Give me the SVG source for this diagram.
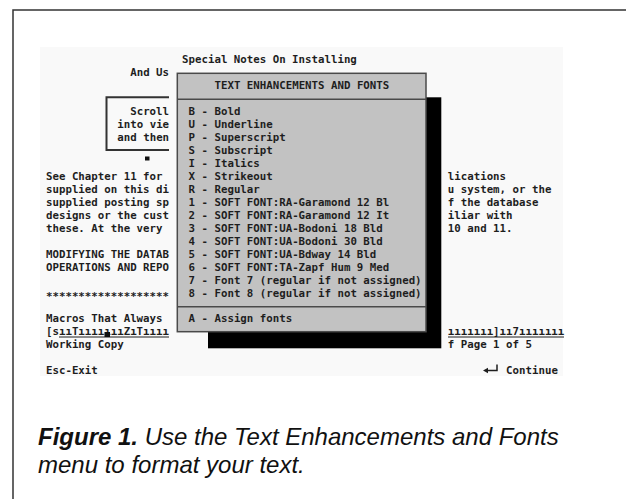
<svg xmlns="http://www.w3.org/2000/svg" width="626" height="499" viewBox="0 0 626 499">
  <style>
    .scr { font-family: "DejaVu Sans Mono", "Liberation Mono", monospace; font-size: 10.76px; font-weight: bold; fill: #1e1e1e; }
    .cap { font-family: "Liberation Sans", Arial, sans-serif; font-size: 24px; font-style: italic; fill: #111; }
    .ul { stroke: #1e1e1e; stroke-width: 1; }
  </style>

  <!-- frame around the figure -->
  <rect x="13" y="10" width="640" height="520" fill="none" stroke="#333" stroke-width="1.5"/>

  <!-- screen background -->
  <rect x="40" y="47" width="523" height="329" fill="#f9f9f9"/>

  <!-- underlying document text -->
  <g id="document">
    <text class="scr" x="182.1" y="63.4">Special Notes On Installing</text>
    <text class="scr" x="130.2" y="76.35">And Us</text>

    <!-- partially hidden scroll box -->
    <path d="M169,97.3 H106.5 V150 H169" fill="none" stroke="#333" stroke-width="2"/>
    <text class="scr" x="130.2" y="115.2">Scroll</text>
    <text class="scr" x="117.3" y="128.15">into vie</text>
    <text class="scr" x="117.3" y="141.1">and then</text>
    <rect x="145" y="156.5" width="4.5" height="4" fill="#111"/>

    <text class="scr" x="46" y="179.95">See Chapter 11 for</text>
    <text class="scr" x="46" y="192.9">supplied on this di</text>
    <text class="scr" x="46" y="205.85">supplied posting sp</text>
    <text class="scr" x="46" y="218.8">designs or the cust</text>
    <text class="scr" x="46" y="231.75">these. At the very</text>
    <text class="scr" x="46" y="257.65">MODIFYING THE DATAB</text>
    <text class="scr" x="46" y="270.6">OPERATIONS AND REPO</text>
    <text class="scr" x="46" y="299.5">*******************</text>
    <text class="scr" x="46" y="322.4">Macros That Always</text>
    <text class="scr" x="46" y="335.35">[sııTıııııııZıTıııı</text>
    <line class="ul" x1="59" y1="337" x2="169" y2="337"/>
    <rect x="104.5" y="332" width="5.5" height="5" fill="#111"/>
    <text class="scr" x="46" y="348.3">Working Copy</text>
    <text class="scr" x="46" y="374.2">Esc-Exit</text>

    <text class="scr" x="447.8" y="179.95">lications</text>
    <text class="scr" x="447.8" y="192.9">u system, or the</text>
    <text class="scr" x="447.8" y="205.85">f the database</text>
    <text class="scr" x="447.8" y="218.8">iliar with</text>
    <text class="scr" x="447.8" y="231.75">10 and 11.</text>
    <text class="scr" x="447.8" y="335.35">ııııııı]ıı7ııııııı</text>
    <line class="ul" x1="448" y1="337" x2="564" y2="337"/>
    <text class="scr" x="447.8" y="348.3">f Page 1 of 5</text>

    <!-- enter key symbol -->
    <path d="M483,370.5 L488,367.8 L488,373.2 Z" fill="#1e1e1e"/>
    <path d="M487,370.5 H497 V364.5" fill="none" stroke="#1e1e1e" stroke-width="1.5"/>
    <text class="scr" x="506.1" y="374.2">Continue</text>
  </g>

  <!-- pop-up menu with drop shadow -->
  <g id="menu">
    <rect x="208" y="97.3" width="233.3" height="251" fill="#000"/>
    <rect x="177.3" y="73.3" width="248.7" height="258.4" fill="#c2c2c2" stroke="#4a4a4a" stroke-width="1.5"/>
    <line x1="177.3" y1="99.3" x2="426" y2="99.3" stroke="#4a4a4a" stroke-width="1.5"/>
    <line x1="177.3" y1="306.7" x2="426" y2="306.7" stroke="#4a4a4a" stroke-width="1.5"/>

    <text class="scr" x="214.5" y="89.3">TEXT ENHANCEMENTS AND FONTS</text>
    <text class="scr" x="188.6" y="115.2">B - Bold</text>
    <text class="scr" x="188.6" y="128.15">U - Underline</text>
    <text class="scr" x="188.6" y="141.1">P - Superscript</text>
    <text class="scr" x="188.6" y="154.05">S - Subscript</text>
    <text class="scr" x="188.6" y="167">I - Italics</text>
    <text class="scr" x="188.6" y="179.95">X - Strikeout</text>
    <text class="scr" x="188.6" y="192.9">R - Regular</text>
    <text class="scr" x="188.6" y="205.85">1 - SOFT FONT:RA-Garamond 12 Bl</text>
    <text class="scr" x="188.6" y="218.8">2 - SOFT FONT:RA-Garamond 12 It</text>
    <text class="scr" x="188.6" y="231.75">3 - SOFT FONT:UA-Bodoni 18 Bld</text>
    <text class="scr" x="188.6" y="244.7">4 - SOFT FONT:UA-Bodoni 30 Bld</text>
    <text class="scr" x="188.6" y="257.65">5 - SOFT FONT:UA-Bdway 14 Bld</text>
    <text class="scr" x="188.6" y="270.6">6 - SOFT FONT:TA-Zapf Hum 9 Med</text>
    <text class="scr" x="188.6" y="283.55">7 - Font 7 (regular if not assigned)</text>
    <text class="scr" x="188.6" y="296.5">8 - Font 8 (regular if not assigned)</text>
    <text class="scr" x="188.6" y="322.4">A - Assign fonts</text>
  </g>

  <!-- caption -->
  <g id="caption">
    <text class="cap" x="38" y="445"><tspan font-weight="bold">Figure 1.</tspan> Use the Text Enhancements and Fonts</text>
    <text class="cap" x="38" y="473">menu to format your text.</text>
  </g>
</svg>
